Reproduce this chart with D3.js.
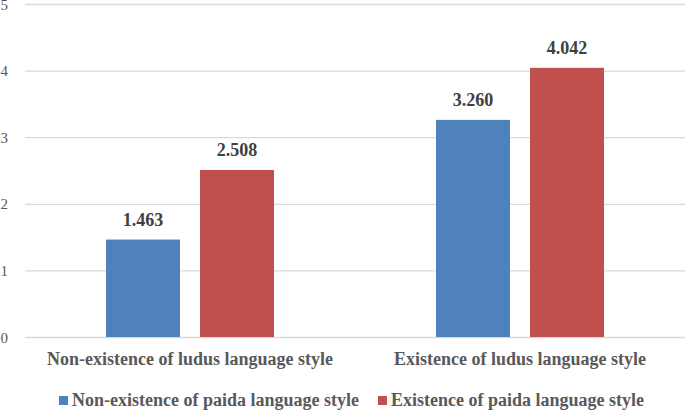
<!DOCTYPE html>
<html>
<head>
<meta charset="utf-8">
<script src="https://cdn.jsdelivr.net/npm/d3@7"></script>
<style>
html,body{margin:0;padding:0;background:#fff;}
svg{display:block;}
</style>
</head>
<body>
<svg id="chart" width="685" height="411"></svg>
<script>
const categories = ["Non-existence of ludus language style", "Existence of ludus language style"];
const seriesNames = ["Non-existence of paida language style", "Existence of paida language style"];
const seriesA = [1.463, 3.260];
const seriesB = [2.508, 4.042];
const yTicks = [0, 1, 2, 3, 4, 5];
const colors = ["#4F81BD", "#C0504D"];

const svg = d3.select("#chart");
const W = 685, H = 411;
const m = {left: 25, right: 0, top: 4, bottom: 74};
const textColor = "#595959";
const FONT = "Liberation Serif";

const x0 = d3.scaleBand().domain(categories).range([m.left, W - m.right]).paddingInner(0).paddingOuter(0);
const x1 = d3.scaleBand().domain([0, 1]).range([0, x0.bandwidth()]).paddingInner(20/94).paddingOuter(81/94);
const y = d3.scaleLinear().domain([0, 5]).range([H - m.bottom, m.top]);

// gridlines
svg.append("g").selectAll("line").data(yTicks).join("line")
  .attr("x1", m.left).attr("x2", W - m.right)
  .attr("y1", d => y(d) + 0.5).attr("y2", d => y(d) + 0.5)
  .attr("stroke", "#D9D9D9").attr("stroke-width", 1.3);

// y tick labels
svg.append("g").selectAll("text").data(yTicks).join("text")
  .attr("x", 8).attr("y", d => y(d) + 5.5)
  .attr("text-anchor", "end")
  .style("font-family", FONT).style("font-size", "15px").attr("fill", textColor)
  .text(d => d);

const rows = categories.map((c, i) => ({cat: c, vals: [seriesA[i], seriesB[i]]}));

const groups = svg.append("g").selectAll("g").data(rows).join("g")
  .attr("transform", d => `translate(${x0(d.cat)},0)`);

groups.selectAll("rect").data(d => d.vals.map((v, j) => ({v, j}))).join("rect")
  .attr("x", d => x1(d.j)).attr("width", x1.bandwidth())
  .attr("y", d => y(d.v)).attr("height", d => y(0) - y(d.v))
  .attr("fill", d => colors[d.j]);

groups.selectAll("text.val").data(d => d.vals.map((v, j) => ({v, j}))).join("text")
  .attr("class", "val")
  .attr("x", d => x1(d.j) + x1.bandwidth() / 2)
  .attr("y", d => y(d.v) - 14)
  .attr("text-anchor", "middle")
  .style("font-family", FONT).style("font-size", "18px").style("font-weight", "bold")
  .attr("fill", "#404040")
  .text(d => d3.format(".3f")(d.v));

// category labels
svg.append("g").selectAll("text").data(categories).join("text")
  .attr("x", d => x0(d) + x0.bandwidth() / 2).attr("y", 365)
  .attr("text-anchor", "middle")
  .style("font-family", FONT).style("font-size", "18px").style("font-weight", "bold")
  .attr("fill", textColor)
  .text(d => d);

// legend
const legendX = [59, 378];
const lg = svg.append("g").selectAll("g").data(seriesNames).join("g")
  .attr("transform", (d, i) => `translate(${legendX[i]},0)`);
lg.append("rect").attr("x", 0).attr("y", 396).attr("width", 9).attr("height", 9)
  .attr("fill", (d, i) => colors[i]);
lg.append("text").attr("x", 13).attr("y", 406)
  .style("font-family", FONT).style("font-size", "18px").style("font-weight", "bold")
  .attr("fill", textColor)
  .text(d => d);
</script>
</body>
</html>
